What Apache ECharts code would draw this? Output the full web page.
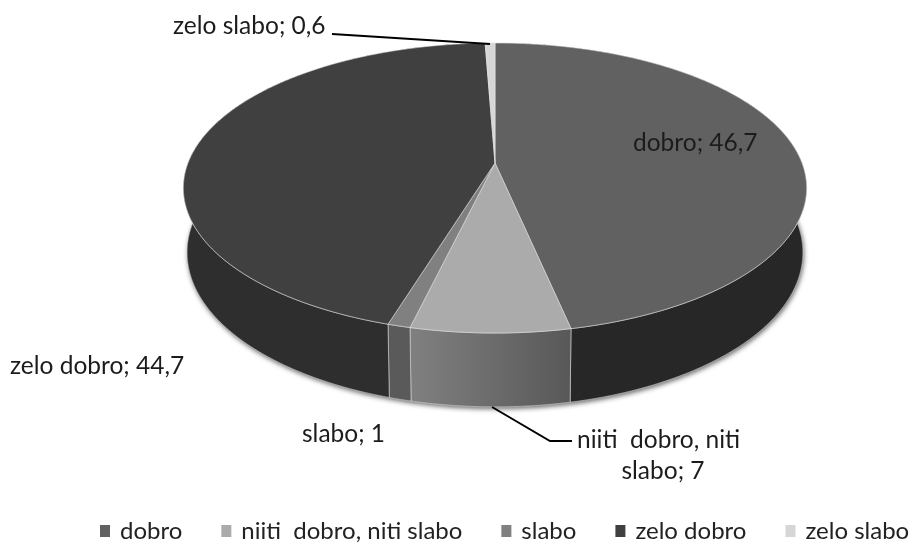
<!DOCTYPE html>
<html><head><meta charset="utf-8">
<style>html,body{margin:0;padding:0;background:#fff}#c{width:912px;height:544px}</style>
<script src="https://cdn.jsdelivr.net/npm/echarts@6/dist/echarts.min.js"></script>
</head><body><div id="c"></div>
<script>
const categories = ['dobro', 'niiti  dobro, niti slabo', 'slabo', 'zelo dobro', 'zelo slabo'];
const values = [46.7, 7, 1, 44.7, 0.6];
const topColors = ['#616161', '#ababab', '#808080', '#404040', '#d6d6d6'];
const wallFrom = ['#272727', '#808080', '#5a5a5a', '#2e2e2e', '#b0b0b0'];
const wallTo = ['#272727', '#585858', '#5a5a5a', '#2e2e2e', '#b0b0b0'];

const FONT = 'Lato';
const P = {cx: 495, cy: 163, R: 307, Ry: 140.7, k: 0.1724, D: 63.6, shrink: 0.012};
const total = values.reduce((a, b) => a + b, 0);

function project(theta, z) {
  const u = Math.sin(theta), v = -Math.cos(theta);
  const s = (1 - P.shrink * z) / (1 - P.k * v);
  return [P.cx + P.R * u * s, P.cy + (P.Ry * v + P.D * z) * s];
}
function arc(a0, a1, z) {
  const n = Math.max(2, Math.ceil((a1 - a0) / 0.01));
  const pts = [];
  for (let i = 0; i <= n; i++) pts.push(project(a0 + (a1 - a0) * i / n, z));
  return pts;
}
function renderSlice(index) {
  return function () {
    const before = values.slice(0, index).reduce((a, b) => a + b, 0);
    const a0 = before / total * 2 * Math.PI;
    const a1 = (before + values[index]) / total * 2 * Math.PI;
    const top = arc(a0, a1, 0), bottom = arc(a0, a1, 1);
    const children = [
      {type: 'polygon', z2: 2, shape: {points: top.concat(bottom.slice().reverse())},
       style: {fill: new echarts.graphic.LinearGradient(0, 0, 1, 0, [
           {offset: 0, color: wallFrom[index]}, {offset: 1, color: wallTo[index]}]),
         stroke: 'rgba(235,235,235,0.75)', lineWidth: 0.7}},
      {type: 'polygon', z2: 3, shape: {points: [[P.cx, P.cy]].concat(top)},
       style: {fill: topColors[index], stroke: 'rgba(235,235,235,0.7)', lineWidth: 0.8}}
    ];
    if (index === 0) {
      children.unshift({type: 'polygon', z2: 1, shape: {points: arc(0, 2 * Math.PI, 1)},
        style: {fill: '#555', shadowBlur: 5, shadowOffsetX: 1, shadowOffsetY: 2, shadowColor: 'rgba(0,0,0,0.6)'}});
    }
    return {type: 'group', children};
  };
}

const labelStyle = {fontFamily: FONT, fontSize: 24.5, fill: '#1c1c1c'};
const labels = [
  {text: 'zelo slabo; 0,6', x: 173, y: 26, align: 'left'},
  {text: 'dobro; 46,7', x: 633, y: 143, align: 'left'},
  {text: 'zelo dobro; 44,7', x: 10, y: 366, align: 'left'},
  {text: 'slabo; 1', x: 302, y: 434, align: 'left'},
  {text: 'niiti  dobro, niti', x: 577, y: 440, align: 'left'},
  {text: 'slabo; 7', x: 663, y: 471, align: 'center'}
];
const leaders = [
  [[332, 34], [490, 44]],
  [[492, 407], [550, 441], [572, 441]]
];

const chart = echarts.init(document.getElementById('c'), null, {renderer: 'canvas'});
chart.setOption({
  animation: false,
  backgroundColor: '#fff',
  color: topColors,
  legend: {
    left: 100, top: 519, padding: 0, itemWidth: 10, itemHeight: 12, itemGap: 39, icon: 'rect',
    selectedMode: false,
    textStyle: {fontFamily: FONT, fontSize: 24, color: '#222', padding: [0, 0, 0, 5]},
    data: categories
  },
  series: categories.map((name, i) => ({
    type: 'custom', name, coordinateSystem: 'none', silent: true,
    itemStyle: {color: topColors[i]},
    data: [[values[i]]],
    renderItem: renderSlice(i)
  })),
  graphic: leaders.map(points => ({
    type: 'polyline', z: 10, silent: true, shape: {points},
    style: {stroke: '#000', lineWidth: 2, fill: null}
  })).concat(labels.map(l => ({
    type: 'text', z: 10, silent: true, x: l.x, y: l.y,
    style: Object.assign({}, labelStyle, {text: l.text, align: l.align, verticalAlign: 'middle'})
  })))
});
</script></body></html>
